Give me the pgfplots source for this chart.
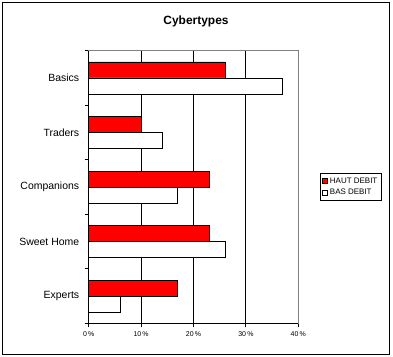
\documentclass[border=0pt]{standalone}
\usepackage{fontspec}
\setmainfont{Liberation Sans}
\usepackage{pgfplots}
\pgfplotsset{compat=1.18}
\begin{document}
\begin{tikzpicture}[x=1bp,y=1bp]
\path (0,0) rectangle (393,-357);
\draw[line width=1bp] (2,-2) rectangle (389,-354);
\node[font=\fontsize{12}{14}\selectfont\bfseries] at (196,-21.6) {Cybertypes};
\begin{axis}[
  at={(88.7bp,-323.3bp)}, anchor=south west,
  scale only axis, width=209.6bp, height=272.6bp,
  xbar, bar width=16bp,
  y dir=reverse,
  xmin=0, xmax=40, ymin=-0.5, ymax=4.5,
  ytick={0,1,2,3,4},
  yticklabels={Basics,Traders,Companions,Sweet Home,Experts},
  minor ytick={-0.5,0.5,1.5,2.5,3.5,4.5},
  major y tick style={draw=none},
  minor tick length=4bp,
  yticklabel style={font=\fontsize{10.5}{12}\selectfont, xshift=-2bp},
  xtick={0,10,20,30,40},
  xticklabel={\pgfmathprintnumber{\tick}\,\%},
  xticklabel style={font=\fontsize{7}{8}\selectfont, yshift=-1bp},
  /pgf/number format/assume math mode=true,
  tick align=outside, major tick length=4bp,
  xtick pos=bottom, ytick pos=left,
  every tick/.style={black, line width=0.8bp},
  extra x ticks={10,20,30}, extra x tick labels={},
  extra x tick style={grid=major, major grid style={black, line width=0.8bp}},
  axis line style={gray, line width=0.8bp},
  after end axis/.code={\draw[black, line width=0.8bp] (rel axis cs:0,1) -- (rel axis cs:0,0) -- (rel axis cs:1,0);},
  legend style={at={(1.1035,0.5503)}, anchor=north west, draw=black, line width=0.8bp,
    font=\fontsize{8}{10}\selectfont, inner sep=2bp, row sep=0.5bp,
    legend cell align=left},
  legend image code/.code={\draw[#1, line width=0.6bp] (0bp,-2.5bp) rectangle (5bp,2.5bp);},
]
\addplot[fill=red, draw=black, line width=0.8bp, bar shift=8bp] coordinates {(26,0) (10,1) (23,2) (23,3) (17,4)};
\addplot[fill=white, draw=black, line width=0.8bp, bar shift=-8bp] coordinates {(37,0) (14,1) (17,2) (26,3) (6,4)};
\legend{HAUT DEBIT, BAS DEBIT}
\end{axis}
\end{tikzpicture}
\end{document}
